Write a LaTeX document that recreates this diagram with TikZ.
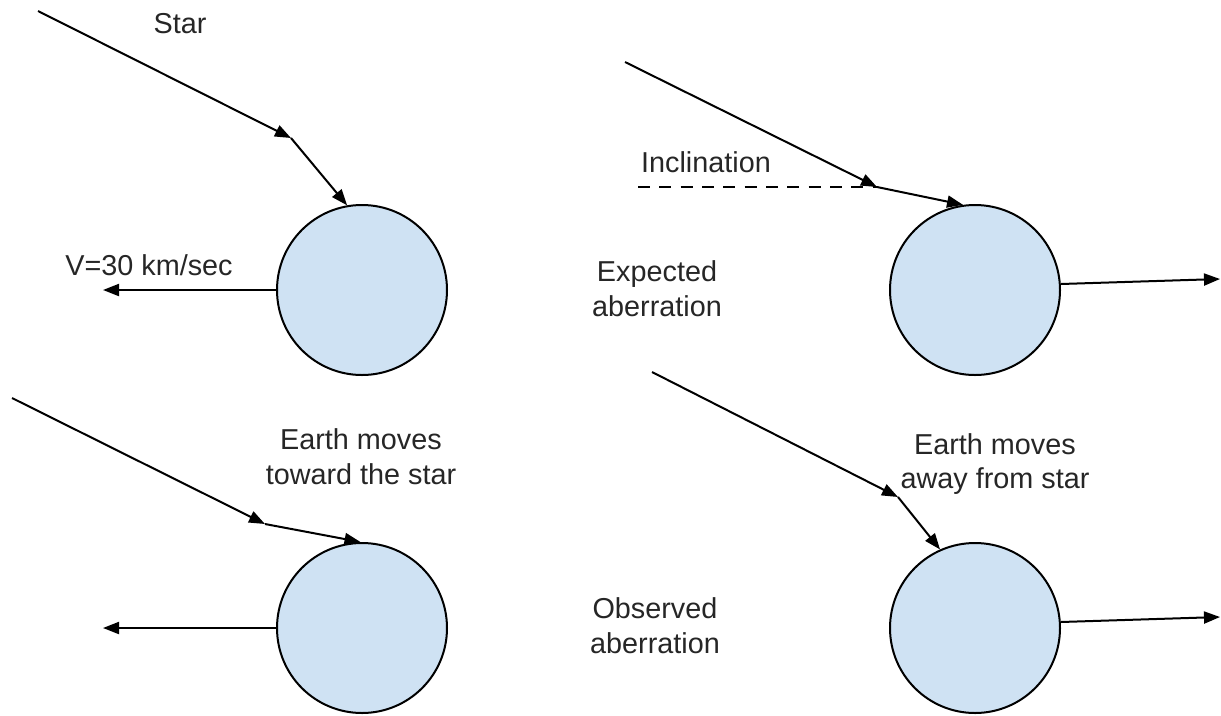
\documentclass[tikz,border=0pt]{standalone}
\usepackage{fontspec}
\setmainfont{Liberation Sans}
\usetikzlibrary{arrows.meta}
\definecolor{earthblue}{HTML}{CFE2F3}
\begin{document}
\begin{tikzpicture}[x=0.75pt,y=-0.75pt,>={Triangle[length=12pt,width=9pt]},
    earth/.style={circle,draw,line width=1.5pt,fill=earthblue,minimum size=127.5pt,inner sep=0pt},
    ray/.style={->,line width=1.5pt},
    lbl/.style={font=\fontsize{21.6}{26}\selectfont,align=center,text=black!85,inner sep=0pt}]
  \useasboundingbox (0,0) rectangle (1221,715);
  % the four earths
  \node[earth] (ea) at (362,290) {};
  \node[earth] (eb) at (975,290) {};
  \node[earth] (ec) at (362,628) {};
  \node[earth] (ed) at (975,628) {};
  % top left: earth at rest
  \coordinate (sa) at (38,11);
  \coordinate (ka) at (291,138);
  \draw[ray] (sa) -- (ka);
  \draw[ray] (ka) -- (ea.100);
  \coordinate (va) at (103,290);
  \draw[ray] (ea.west) -- (va);
  \node[lbl,anchor=base] (star) at (180,33) {Star};
  \node[lbl,anchor=base] (speed) at (149,275) {V=30 km/sec};
  % top right: expected aberration
  \coordinate (sb) at (625,62);
  \coordinate (kb) at (877,187);
  \coordinate (hb) at (638,187);
  \draw[ray] (sb) -- (kb);
  \draw[ray] (kb) -- (eb.98);
  \draw[line width=1.5pt,dash pattern=on 9pt off 7pt] (hb) -- (kb);
  \coordinate (vb) at (1220,279);
  \draw[ray] (eb.4) -- (vb);
  \node[lbl,anchor=base] (incl) at (706,172) {Inclination};
  \node[lbl] (expd) at (657,289) {Expected\\aberration};
  % bottom left: toward the star
  \coordinate (sc) at (12,398);
  \coordinate (kc) at (265,524);
  \draw[ray] (sc) -- (kc);
  \draw[ray] (kc) -- (ec.91);
  \coordinate (vc) at (103,628);
  \draw[ray] (ec.west) -- (vc);
  \node[lbl] (toward) at (361,457) {Earth moves\\toward the star};
  % bottom right: away from star
  \coordinate (sd) at (652,372);
  \coordinate (kd) at (898,497);
  \draw[ray] (sd) -- (kd);
  \draw[ray] (kd) -- (ed.114);
  \coordinate (vd) at (1220,617);
  \draw[ray] (ed.4) -- (vd);
  \node[lbl] (away) at (995,464) {Earth moves\\away from star};
  \node[lbl] (obsd) at (655,626) {Observed\\aberration};
\end{tikzpicture}
\end{document}
